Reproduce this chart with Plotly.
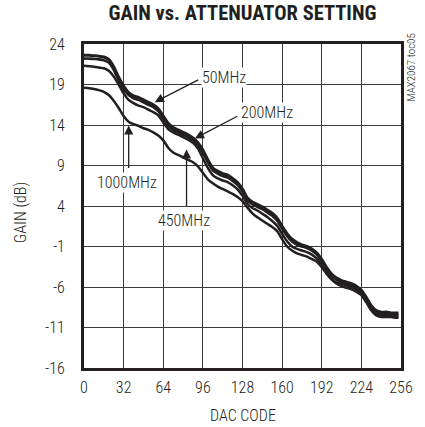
import plotly.graph_objects as go

dac_code = [0, 4, 8, 12, 16, 20, 24, 28, 32, 36, 40, 44, 48, 52, 56, 60, 64, 68, 72, 76,
            80, 84, 88, 92, 96, 100, 104, 108, 112, 116, 120, 124, 128, 132, 136, 140,
            144, 148, 152, 156, 160, 164, 168, 172, 176, 180, 184, 188, 192, 196, 200,
            204, 208, 212, 216, 220, 224, 228, 232, 236, 240, 244, 248, 252, 254]

gain_50mhz = [22.6, 22.6, 22.55, 22.5, 22.4, 22.1, 21.2, 19.9, 18.8, 18.0, 17.6, 17.4, 17.1,
              16.8, 16.5, 16.0, 15.1, 14.2, 13.7, 13.4, 13.1, 12.8, 12.4, 11.8, 10.9, 9.7,
              8.7, 8.3, 8.0, 7.8, 7.4, 6.9, 6.1, 5.0, 4.5, 4.2, 3.9, 3.5, 3.1, 2.5, 1.5, 0.6,
              -0.1, -0.5, -0.8, -1.0, -1.3, -1.8, -2.6, -3.6, -4.4, -4.9, -5.2, -5.4, -5.6,
              -5.9, -6.4, -7.3, -8.3, -8.9, -9.1, -9.1, -9.2, -9.2, -9.2]

gain_200mhz = [22.2, 22.2, 22.15, 22.1, 22.0, 21.7, 20.8, 19.5, 18.4, 17.7, 17.3, 17.1, 16.8,
               16.5, 16.2, 15.7, 14.8, 13.9, 13.4, 13.1, 12.8, 12.5, 12.1, 11.5, 10.6, 9.4,
               8.4, 8.0, 7.7, 7.5, 7.1, 6.6, 5.8, 4.7, 4.2, 3.9, 3.6, 3.2, 2.8, 2.2, 1.2, 0.3,
               -0.4, -0.8, -1.0, -1.2, -1.5, -2.0, -2.8, -3.8, -4.6, -5.1, -5.4, -5.6, -5.8,
               -6.1, -6.6, -7.5, -8.5, -9.1, -9.3, -9.3, -9.3, -9.4, -9.4]

gain_450mhz = [21.3, 21.25, 21.2, 21.1, 21.0, 20.7, 20.0, 19.0, 17.9, 17.1, 16.7, 16.4, 16.2,
               15.9, 15.6, 15.2, 14.3, 13.5, 13.1, 12.8, 12.5, 12.2, 11.8, 11.1, 9.9, 8.7,
               7.8, 7.4, 7.15, 6.95, 6.55, 6.05, 5.25, 4.25, 3.75, 3.45, 3.05, 2.65, 2.15,
               1.55, 0.55, -0.35, -1.0, -1.3, -1.5, -1.7, -2.0, -2.5, -3.25, -4.2, -5.0,
               -5.45, -5.6, -5.8, -6.0, -6.3, -6.8, -7.7, -8.7, -9.3, -9.5, -9.5, -9.5, -9.6,
               -9.6]

gain_1000mhz = [18.6, 18.55, 18.45, 18.3, 18.1, 17.7, 17.0, 16.1, 15.1, 14.4, 14.1, 13.9, 13.6,
                13.4, 13.1, 12.7, 12.1, 11.2, 10.6, 10.3, 10.0, 9.7, 9.4, 8.9, 8.1, 7.3,
                6.8, 6.4, 6.1, 5.8, 5.5, 5.1, 4.6, 3.8, 3.1, 2.6, 2.2, 1.8, 1.4, 0.9, -0.1,
                -1.0, -1.5, -1.85, -2.05, -2.25, -2.55, -2.9, -3.55, -4.4, -5.1, -5.6, -5.9,
                -6.1, -6.3, -6.6, -7.0, -7.9, -8.9, -9.5, -9.7, -9.7, -9.7, -9.8, -9.8]

x_ticks = [0, 32, 64, 96, 128, 160, 192, 224, 256]
y_ticks = [-16, -11, -6, -1, 4, 9, 14, 19, 24]

series = [
    ("50MHz", gain_50mhz, 3.0),
    ("200MHz", gain_200mhz, 2.6),
    ("450MHz", gain_450mhz, 2.5),
    ("1000MHz", gain_1000mhz, 2.5),
]

FONT = "Roboto Condensed, Liberation Sans Narrow, Arial Narrow, Liberation Sans, sans-serif"
INK = "#231f20"
LIGHT = 300


def f(size, weight=LIGHT):
    return dict(family=FONT, size=size, color=INK, weight=weight)


fig = go.Figure()
for name, vals, w in series:
    fig.add_trace(go.Scatter(x=dac_code, y=vals, mode="lines", name=name,
                             line=dict(color=INK, width=w, shape="spline", smoothing=0.6),
                             showlegend=False))

# arrows: tip position (data) and tail offset (pixels)
arrows = [
    (57.1, 16.82, 45, -23),
    (89.5, 12.34, 44, -23),
    (36.1, 13.94, 0, 44),
    (82.8, 10.98, 0, 58),
]
labels = [
    ("50MHz", 112.7, 19.87),
    ("200MHz", 148.0, 15.55),
    ("1000MHz", 34.6, 6.91),
    ("450MHz", 80.9, 2.22),
]
annotations = []
for tx, ty, ax, ay in arrows:
    annotations.append(dict(x=tx, y=ty, xref="x", yref="y", text="", showarrow=True,
                            ax=ax, ay=ay, arrowhead=2, arrowsize=1.4, arrowwidth=1.3,
                            arrowcolor=INK, standoff=0))
for txt, lx, ly in labels:
    annotations.append(dict(x=lx, y=ly, xref="x", yref="y", text=txt, showarrow=False,
                            xanchor="center", yanchor="middle",
                            bgcolor="white", borderpad=0, font=f(16)))

annotations.append(dict(x=(19 - 84) / 326, y=0.48, xref="paper", yref="paper",
                        xanchor="center", yanchor="middle",
                        text="GAIN (dB)", textangle=-90, showarrow=False, font=f(16)))
annotations.append(dict(x=0.5, y=-(415 - 367.7) / 324.2, xref="paper", yref="paper",
                        xanchor="center", yanchor="middle",
                        text="DAC CODE", showarrow=False, font=f(16)))
annotations.append(dict(x=1.0, xshift=10, y=(367.7 - 67) / 324.2, xref="paper", yref="paper",
                        xanchor="center", yanchor="middle",
                        text="MAX2067 toc05", textangle=-90, showarrow=False, font=f(11)))

fig.update_layout(
    width=425, height=427,
    margin=dict(l=84, r=15, t=44, b=59),
    paper_bgcolor="white", plot_bgcolor="white",
    font=f(16),
    title=dict(text="<b>GAIN vs. ATTENUATOR SETTING</b>", x=0.5, xref="paper",
               y=1 - 13 / 427, yanchor="middle",
               font=dict(family=FONT, size=20.5, color=INK)),
    annotations=annotations,
)
fig.update_xaxes(range=[0, 256], tickvals=x_ticks, ticktext=[str(v) for v in x_ticks],
                 showgrid=True, gridcolor="#3a3a3a", gridwidth=1,
                 showline=True, linecolor=INK, linewidth=3, mirror=True,
                 zeroline=False, ticks="", ticklabelstandoff=3, tickfont=f(16))
fig.update_yaxes(range=[-16, 24], tickvals=y_ticks, ticktext=[str(v) for v in y_ticks],
                 showgrid=True, gridcolor="#3a3a3a", gridwidth=1,
                 showline=True, linecolor=INK, linewidth=3, mirror=True,
                 zeroline=False, ticks="", ticklabelstandoff=13, tickfont=f(16))

fig.write_html("out.html")
